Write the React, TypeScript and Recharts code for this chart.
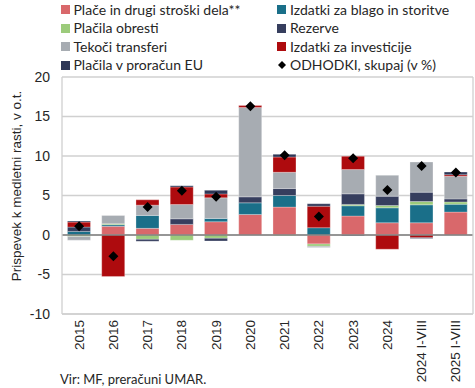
import React from 'react';
import { ComposedChart, Bar, Line, XAxis, YAxis, CartesianGrid, ReferenceLine } from 'recharts';

const categories = ['2015', '2016', '2017', '2018', '2019', '2020', '2021', '2022', '2023', '2024', '2024 I-VIII', '2025 I-VIII'];
const place = [0, 1.1, 0.84, 1.34, 1.68, 2.6, 3.53, -1.13, 2.4, 1.55, 1.55, 2.9];
const blago = [0.45, 0.2, 1.64, 0, 0.42, 1.47, 1.47, 0.92, 1.3, 1.89, 2.27, 1.0];
const obresti = [-0.2, 0.12, -0.55, -0.67, -0.42, 0, -0.1, -0.3, 0.17, 0.29, 0.42, 0.29];
const rezerve = [0.55, 0, -0.25, 0.71, -0.34, 0.76, 0.88, 0, 1.34, 1.18, 1.18, 0.38];
const transferi = [-0.45, 1.05, 1.3, 1.8, 2.6, 11.3, 2.06, -0.15, 3.07, 2.65, 3.82, 2.86];
const investicije = [0.63, -5.25, 0.67, 2.23, 0.5, 0.25, 1.93, 2.73, 1.68, -1.8, -0.35, 0.2];
const eu = [0.13, 0, 0, 0.17, 0.46, 0, 0.34, 0.3, -0.1, 0, -0.1, 0.34];
const total = [1.1, -2.7, 3.55, 5.6, 4.85, 16.3, 10.1, 2.35, 9.7, 5.7, 8.75, 7.9];
const yTicks = [-10, -5, 0, 5, 10, 15, 20];

const series = [
  { key: 'place', name: 'Plače in drugi stroški dela**', color: '#D9686B', values: place },
  { key: 'blago', name: 'Izdatki za blago in storitve', color: '#1A6F89', values: blago },
  { key: 'obresti', name: 'Plačila obresti', color: '#9CCB7B', values: obresti },
  { key: 'rezerve', name: 'Rezerve', color: '#363E5E', values: rezerve },
  { key: 'transferi', name: 'Tekoči transferi', color: '#A7ACB2', values: transferi },
  { key: 'investicije', name: 'Izdatki za investicije', color: '#AE0B0E', values: investicije },
  { key: 'eu', name: 'Plačila v proračun EU', color: '#2E3757', values: eu },
];

const data = categories.map((c, i) => {
  const row: any = { cat: c, total: total[i] };
  series.forEach((s) => { row[s.key] = s.values[i]; });
  return row;
});

const Diamond = (props: any) => {
  const { cx, cy } = props;
  if (cx == null || cy == null) return null;
  const r = 5;
  return <path d={`M${cx},${cy - r}L${cx + r},${cy}L${cx},${cy + r}L${cx - r},${cy}Z`} fill="#000" />;
};

const XTick = (props: any) => {
  const { x, payload } = props;
  const y = 320;
  return (
    <text
      x={0}
      y={0}
      transform={`translate(${x},${y}) rotate(-90)`}
      textAnchor="end"
      dominantBaseline="central"
      fontFamily="'Liberation Sans', Arial, sans-serif"
      fontSize={13.5}
      fill="#262626"
    >
      {payload.value}
    </text>
  );
};

const legendFont = "Lato, 'Noto Sans', sans-serif";

const legendItems = [
  { name: series[0].name, color: series[0].color, col: 0, row: 0 },
  { name: series[1].name, color: series[1].color, col: 1, row: 0 },
  { name: series[2].name, color: series[2].color, col: 0, row: 1 },
  { name: series[3].name, color: series[3].color, col: 1, row: 1 },
  { name: series[4].name, color: series[4].color, col: 0, row: 2 },
  { name: series[5].name, color: series[5].color, col: 1, row: 2 },
  { name: series[6].name, color: series[6].color, col: 0, row: 3 },
  { name: 'ODHODKI, skupaj (v %)', color: 'diamond', col: 1, row: 3 },
];

export default function App() {
  return (
    <div style={{ position: 'relative', width: 475, height: 388, background: '#fff' }}>
      <style>{`body{margin:0}`}</style>
      <ComposedChart
        width={475}
        height={388}
        data={data}
        stackOffset="sign"
        margin={{ top: 77, right: 0, bottom: 0, left: 0 }}
        barCategoryGap="16%"
      >
        <CartesianGrid vertical={false} stroke="#D0D0D0" strokeWidth={1.3} />
        <XAxis
          dataKey="cat"
          height={74}
          tick={<XTick />}
          tickLine={false}
          axisLine={{ stroke: '#D0D0D0', strokeWidth: 1.3 }}
          interval={0}
        />
        <YAxis
          width={62}
          domain={[-10, 20]}
          ticks={yTicks}
          tickLine={false}
          tickSize={0}
          tickMargin={12}
          axisLine={{ stroke: '#D0D0D0', strokeWidth: 1.3 }}
          tick={{ fontFamily: "'Liberation Sans', Arial, sans-serif", fontSize: 14, fill: '#262626' }}
          allowDataOverflow
        />
        <YAxis
          yAxisId="r"
          orientation="right"
          width={2}
          domain={[-10, 20]}
          tick={false}
          tickLine={false}
          axisLine={{ stroke: '#D0D0D0', strokeWidth: 1.3 }}
        />
        {series.map((s) => (
          <Bar
            key={s.key}
            dataKey={s.key}
            stackId="a"
            fill={s.color}
            stroke="rgba(255,255,255,0.35)"
            strokeWidth={0.8}
            isAnimationActive={false}
          />
        ))}
        <ReferenceLine y={0} stroke="#7F7F7F" strokeWidth={1.5} />
        <Line
          dataKey="total"
          stroke="none"
          dot={<Diamond />}
          activeDot={false}
          isAnimationActive={false}
          legendType="none"
        />
      </ComposedChart>

      {legendItems.map((it, i) => {
        const cy = 9.5 + it.row * 18.6;
        const mx = it.col === 0 ? 61 : 277;
        const tx = it.col === 0 ? 73.5 : 290;
        return (
          <React.Fragment key={i}>
            {it.color === 'diamond' ? (
              <svg style={{ position: 'absolute', left: mx, top: cy - 5 }} width={10} height={10}>
                <path d="M5,1L9,5L5,9L1,5Z" fill="#000" />
              </svg>
            ) : (
              <div
                style={{
                  position: 'absolute',
                  left: mx,
                  top: cy - 4.5,
                  width: 9,
                  height: 9,
                  background: it.color,
                }}
              />
            )}
            <div
              style={{
                position: 'absolute',
                left: tx,
                top: cy - 9,
                height: 18,
                lineHeight: '18px',
                fontFamily: legendFont,
                fontSize: 14,
                color: '#262626',
                whiteSpace: 'nowrap',
              }}
            >
              {it.name}
            </div>
          </React.Fragment>
        );
      })}

      <div
        style={{
          position: 'absolute',
          left: 16,
          top: 186,
          transform: 'translate(-50%, -50%) rotate(-90deg)',
          fontFamily: "'Liberation Sans', Arial, sans-serif",
          fontSize: 13.5,
          color: '#262626',
          whiteSpace: 'nowrap',
        }}
      >
        Prispevek k medletni rasti, v o.t.
      </div>

      <div
        style={{
          position: 'absolute',
          left: 60,
          top: 371,
          lineHeight: '16px',
          fontFamily: legendFont,
          fontSize: 13,
          color: '#262626',
          whiteSpace: 'nowrap',
        }}
      >
        Vir: MF, preračuni UMAR.
      </div>
    </div>
  );
}
